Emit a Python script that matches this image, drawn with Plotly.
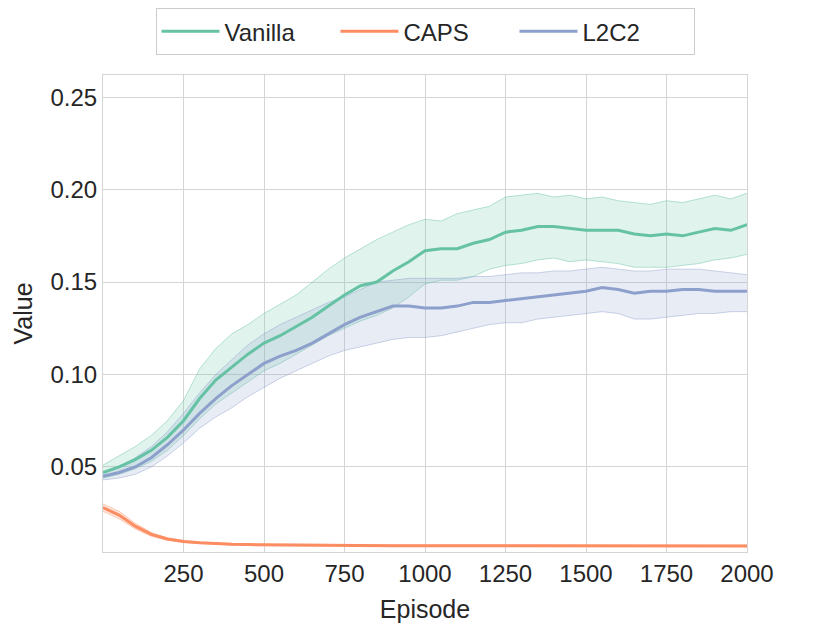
import plotly.graph_objects as go

episodes = list(range(0, 2001, 50))

vanilla_mean = [0.047, 0.050, 0.054, 0.059, 0.066, 0.075, 0.087, 0.097, 0.104, 0.111,
                0.117, 0.121, 0.126, 0.131, 0.137, 0.143, 0.148, 0.150, 0.156, 0.161,
                0.167, 0.168, 0.168, 0.171, 0.173, 0.177, 0.178, 0.180, 0.180, 0.179,
                0.178, 0.178, 0.178, 0.176, 0.175, 0.176, 0.175, 0.177, 0.179, 0.178, 0.181]
vanilla_upper = [0.051, 0.056, 0.061, 0.067, 0.075, 0.086, 0.103, 0.114, 0.122, 0.127,
                 0.133, 0.138, 0.143, 0.150, 0.157, 0.163, 0.168, 0.173, 0.177, 0.181,
                 0.184, 0.183, 0.187, 0.189, 0.191, 0.196, 0.197, 0.198, 0.196, 0.197,
                 0.195, 0.196, 0.194, 0.193, 0.192, 0.194, 0.193, 0.195, 0.197, 0.195, 0.198]
vanilla_lower = [0.044, 0.046, 0.049, 0.053, 0.059, 0.067, 0.076, 0.084, 0.090, 0.096,
                 0.102, 0.106, 0.111, 0.116, 0.121, 0.125, 0.129, 0.132, 0.136, 0.142,
                 0.149, 0.151, 0.151, 0.153, 0.157, 0.159, 0.160, 0.162, 0.163, 0.161,
                 0.162, 0.161, 0.160, 0.158, 0.158, 0.158, 0.159, 0.160, 0.162, 0.163, 0.165]

caps_mean = [0.028, 0.024, 0.018, 0.0135, 0.011, 0.0097, 0.009, 0.0085, 0.0082, 0.008,
             0.0079, 0.0078, 0.0078, 0.0077, 0.0076, 0.0075, 0.0074, 0.0074, 0.0074, 0.0074,
             0.0074, 0.0074, 0.0073, 0.0073, 0.0072, 0.0072, 0.0072, 0.0072, 0.0072, 0.0072,
             0.0072, 0.0072, 0.0072, 0.0072, 0.0072, 0.0072, 0.0072, 0.0072, 0.0071, 0.0072, 0.0073]
caps_upper = [0.030, 0.026, 0.0195, 0.0145, 0.0117, 0.0102, 0.0094, 0.0089, 0.0086, 0.0084,
              0.0083, 0.0082, 0.0082, 0.0081, 0.0080, 0.0079, 0.0078, 0.0078, 0.0078, 0.0078,
              0.0078, 0.0078, 0.0077, 0.0077, 0.0076, 0.0076, 0.0076, 0.0076, 0.0076, 0.0076,
              0.0076, 0.0076, 0.0076, 0.0076, 0.0076, 0.0076, 0.0076, 0.0076, 0.0075, 0.0076, 0.0077]
caps_lower = [0.026, 0.022, 0.0165, 0.0125, 0.0103, 0.0092, 0.0086, 0.0081, 0.0078, 0.0076,
              0.0075, 0.0074, 0.0074, 0.0073, 0.0072, 0.0071, 0.0070, 0.0070, 0.0070, 0.0070,
              0.0070, 0.0070, 0.0069, 0.0069, 0.0068, 0.0068, 0.0068, 0.0068, 0.0068, 0.0068,
              0.0068, 0.0068, 0.0068, 0.0068, 0.0068, 0.0068, 0.0068, 0.0068, 0.0067, 0.0068, 0.0069]

l2c2_mean = [0.045, 0.047, 0.050, 0.055, 0.062, 0.070, 0.079, 0.087, 0.094, 0.100,
             0.106, 0.110, 0.113, 0.117, 0.122, 0.127, 0.131, 0.134, 0.137, 0.137,
             0.136, 0.136, 0.137, 0.139, 0.139, 0.140, 0.141, 0.142, 0.143, 0.144,
             0.145, 0.147, 0.146, 0.144, 0.145, 0.145, 0.146, 0.146, 0.145, 0.145, 0.145]
l2c2_upper = [0.047, 0.050, 0.055, 0.061, 0.069, 0.079, 0.090, 0.100, 0.108, 0.116,
              0.122, 0.127, 0.131, 0.135, 0.139, 0.142, 0.146, 0.150, 0.151, 0.152,
              0.152, 0.152, 0.152, 0.153, 0.153, 0.154, 0.155, 0.155, 0.156, 0.156,
              0.157, 0.158, 0.157, 0.156, 0.156, 0.157, 0.157, 0.157, 0.156, 0.155, 0.154]
l2c2_lower = [0.043, 0.044, 0.046, 0.050, 0.056, 0.063, 0.071, 0.077, 0.082, 0.088,
              0.093, 0.098, 0.102, 0.106, 0.110, 0.113, 0.115, 0.117, 0.119, 0.120,
              0.120, 0.121, 0.123, 0.125, 0.127, 0.128, 0.128, 0.130, 0.131, 0.132,
              0.133, 0.134, 0.133, 0.130, 0.130, 0.131, 0.132, 0.133, 0.133, 0.134, 0.134]

x_ticks = [250, 500, 750, 1000, 1250, 1500, 1750, 2000]
y_ticks = [0.05, 0.10, 0.15, 0.20, 0.25]

series = [
    ("Vanilla", vanilla_mean, vanilla_lower, vanilla_upper, (102, 194, 165)),
    ("CAPS", caps_mean, caps_lower, caps_upper, (252, 141, 98)),
    ("L2C2", l2c2_mean, l2c2_lower, l2c2_upper, (141, 160, 203)),
]

fig = go.Figure()

# shaded bands first, then the mean lines on top
for name, mean, lower, upper, (r, g, b) in series:
    fig.add_trace(go.Scatter(x=episodes, y=lower, mode="lines",
                             line=dict(color=f"rgba({r},{g},{b},0.45)", width=1),
                             showlegend=False, hoverinfo="skip"))
    fig.add_trace(go.Scatter(x=episodes, y=upper, mode="lines", fill="tonexty",
                             fillcolor=f"rgba({r},{g},{b},0.2)",
                             line=dict(color=f"rgba({r},{g},{b},0.45)", width=1),
                             showlegend=False, hoverinfo="skip"))

for name, mean, lower, upper, (r, g, b) in series:
    fig.add_trace(go.Scatter(x=episodes, y=mean, mode="lines", name=name,
                             line=dict(color=f"rgb({r},{g},{b})", width=3)))

axis_style = dict(showgrid=True, gridcolor="#d5d5d5", gridwidth=1,
                  showline=True, linecolor="#d5d5d5", linewidth=1, mirror=True,
                  zeroline=False, ticks="", tickfont=dict(size=24, color="#262626"))

fig.update_xaxes(range=[0, 2000], tickvals=x_ticks,
                 title=dict(text="Episode", font=dict(size=25, color="#262626"), standoff=14),
                 **axis_style)
fig.update_yaxes(range=[0.004, 0.262], tickvals=y_ticks, tickformat=".2f",
                 title=dict(text="Value", font=dict(size=25, color="#262626"), standoff=10),
                 **axis_style)

# the page body adds an 8px offset, so margins are shifted to compensate
fig.update_layout(
    width=830, height=623,
    margin=dict(l=95, r=91, t=67, b=79, autoexpand=False),
    paper_bgcolor="white", plot_bgcolor="white",
    font=dict(family="Liberation Sans, Arial, sans-serif", color="#262626"),
    legend=dict(orientation="h", x=0.5, xanchor="center", y=1.14, yanchor="top",
                traceorder="normal", bordercolor="#cccccc", borderwidth=1, bgcolor="white",
                font=dict(size=24), itemwidth=58, entrywidth=106, entrywidthmode="pixels"),
)

fig.write_html("out.html")
